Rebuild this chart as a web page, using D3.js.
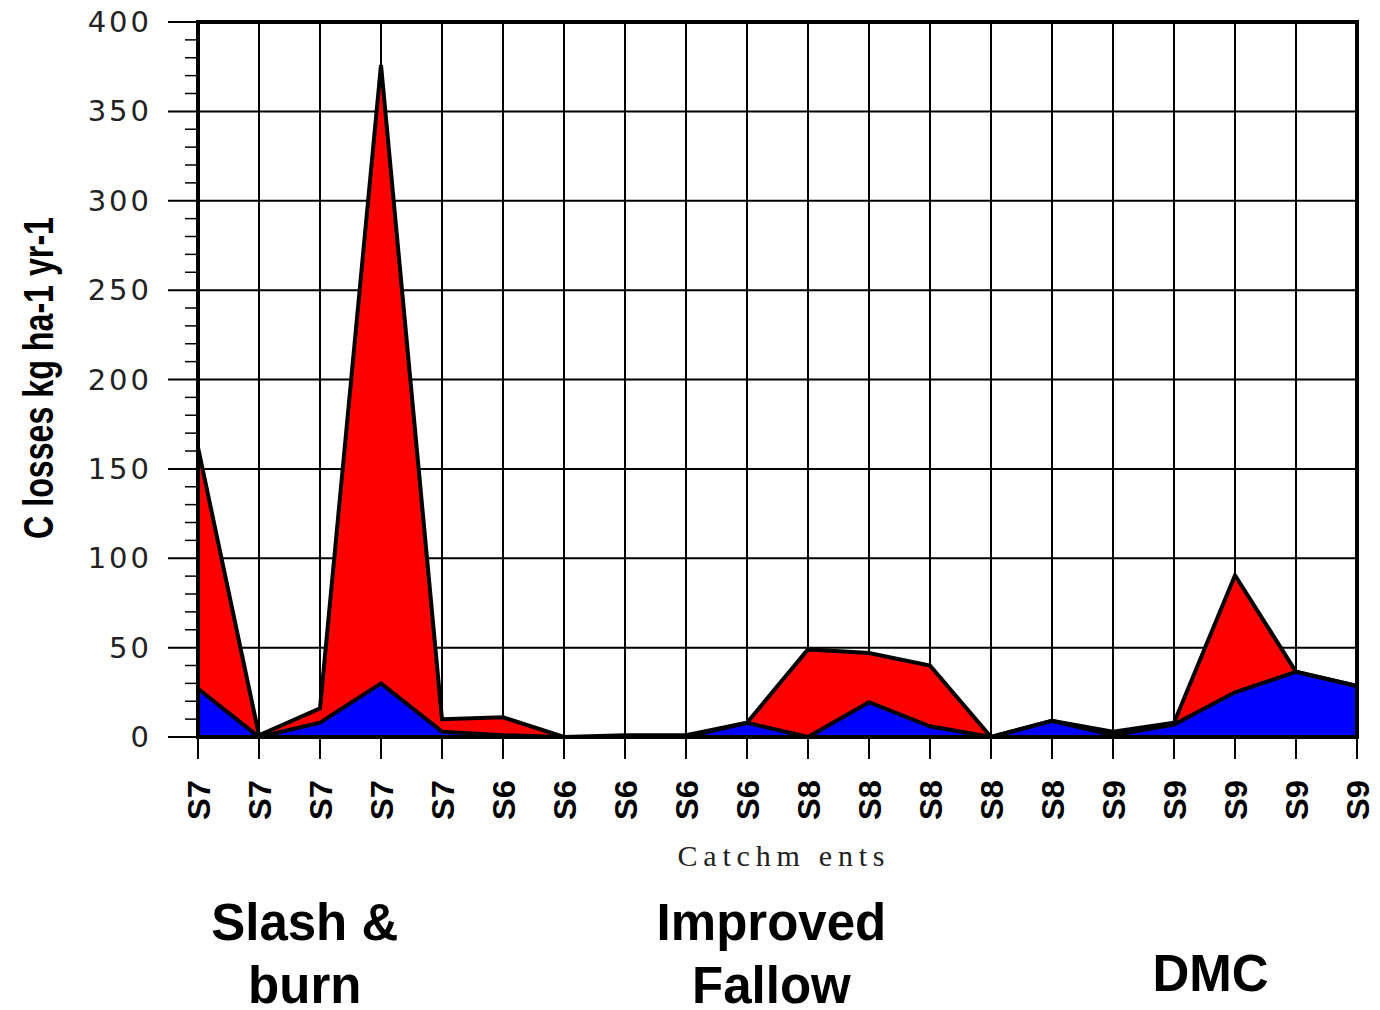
<!DOCTYPE html>
<html>
<head>
<meta charset="utf-8">
<script src="https://cdn.jsdelivr.net/npm/d3@7"></script>
<style>
  body { margin: 0; background: #fff; }
</style>
</head>
<body>
<svg id="chart" width="1380" height="1010"></svg>
<script>
var catchments = ["S7","S7","S7","S7","S7","S6","S6","S6","S6","S6","S8","S8","S8","S8","S8","S9","S9","S9","S9","S9"];
// lower layer (blue) and upper layer (red), kg ha-1 yr-1
var blueVals = [27, 0, 8, 30, 3, 1, 0, 0, 0, 8, 0, 19.5, 6, 0, 9, 1, 7, 25, 36.5, 28.5];
var redVals  = [135, 1, 8, 346, 7, 10, 0, 1, 1, 0, 49, 27.5, 34, 0, 0, 2, 1, 65.5, 0, 0];
var yTicks = [0, 50, 100, 150, 200, 250, 300, 350, 400];
var groups = [
  {lines: ["Slash &", "burn"], at: 1.75, y: 922},
  {lines: ["Improved", "Fallow"], at: 9.4, y: 922},
  {lines: ["DMC"], at: 16.6, y: 973}
];

var svg = d3.select("#chart");
var mLeft = 198, mRight = 1357, mTop = 22, mBottom = 737;

var x = d3.scaleLinear().domain([0, catchments.length - 1]).range([mLeft, mRight]);
var y = d3.scaleLinear().domain([0, 400]).range([mBottom, mTop]);

var rows = catchments.map((c, i) => ({i: i, blue: blueVals[i], red: redVals[i]}));
var stack = d3.stack().keys(["blue", "red"]);
var layers = stack(rows);

// grid
svg.append("g").selectAll("line")
  .data(yTicks)
  .join("line")
    .attr("x1", mLeft - 30).attr("x2", mRight)
    .attr("y1", d => y(d)).attr("y2", d => y(d))
    .attr("stroke", "#000").attr("stroke-width", 2);

svg.append("g").selectAll("line")
  .data(d3.range(catchments.length))
  .join("line")
    .attr("x1", d => x(d)).attr("x2", d => x(d))
    .attr("y1", mTop).attr("y2", mBottom + 22)
    .attr("stroke", "#000").attr("stroke-width", 2);

// minor ticks
svg.append("g").selectAll("line")
  .data(d3.range(0, 401, 10).filter(d => d % 50 !== 0))
  .join("line")
    .attr("x1", mLeft - 13).attr("x2", mLeft)
    .attr("y1", d => y(d)).attr("y2", d => y(d))
    .attr("stroke", "#000").attr("stroke-width", 1.5);

var area = d3.area()
  .x(d => x(d.data.i))
  .y0(d => y(d[0]))
  .y1(d => y(d[1]));

var colors = {blue: "#0000ff", red: "#ff0000"};

svg.append("g").selectAll("path")
  .data(layers)
  .join("path")
    .attr("d", area)
    .attr("fill", d => colors[d.key]);

var topLine = d3.line()
  .x(d => x(d.data.i))
  .y(d => y(d[1]));

svg.append("g").selectAll("path")
  .data(layers)
  .join("path")
    .attr("d", topLine)
    .attr("fill", "none")
    .attr("stroke", "#000")
    .attr("stroke-width", 4)
    .attr("stroke-linejoin", "miter");

// frame
svg.append("rect")
  .attr("x", mLeft).attr("y", mTop)
  .attr("width", mRight - mLeft).attr("height", mBottom - mTop)
  .attr("fill", "none").attr("stroke", "#000").attr("stroke-width", 4);

// y labels
svg.append("g").selectAll("text")
  .data(yTicks)
  .join("text")
    .attr("x", 152).attr("y", d => y(d) + 10)
    .attr("text-anchor", "end")
    .attr("font-family", "DejaVu Sans")
    .attr("font-size", 29)
    .attr("letter-spacing", 3)
    .attr("fill", "#222")
    .text(d => d);

// x labels
svg.append("g").selectAll("text")
  .data(catchments)
  .join("text")
    .attr("transform", (d, i) => "translate(" + (x(i) + 12) + ",820) rotate(-90)")
    .attr("font-family", "Liberation Sans")
    .attr("font-weight", "bold")
    .attr("font-size", 32)
    .attr("textLength", 40)
    .attr("lengthAdjust", "spacingAndGlyphs")
    .text(d => d);

svg.append("text")
  .attr("x", 781).attr("y", 866)
  .attr("text-anchor", "middle")
  .attr("font-family", "Liberation Serif")
  .attr("font-size", 30)
  .attr("textLength", 207)
  .attr("lengthAdjust", "spacing")
  .attr("fill", "#222")
  .text("Catchm ents");

svg.append("text")
  .attr("transform", "translate(53,378) rotate(-90)")
  .attr("text-anchor", "middle")
  .attr("font-family", "Liberation Sans")
  .attr("font-weight", "bold")
  .attr("font-size", 42)
  .attr("textLength", 322)
  .attr("lengthAdjust", "spacingAndGlyphs")
  .text("C losses kg ha-1 yr-1");

// group labels
groups.forEach(g => {
  var t = svg.append("text")
    .attr("text-anchor", "middle")
    .attr("font-family", "Liberation Sans")
    .attr("font-weight", "bold")
    .attr("font-size", 51);
  g.lines.forEach((l, k) => {
    t.append("tspan")
      .attr("x", x(g.at))
      .attr("y", g.y + 18 + k * 63)
      .text(l);
  });
});
</script>
</body>
</html>
